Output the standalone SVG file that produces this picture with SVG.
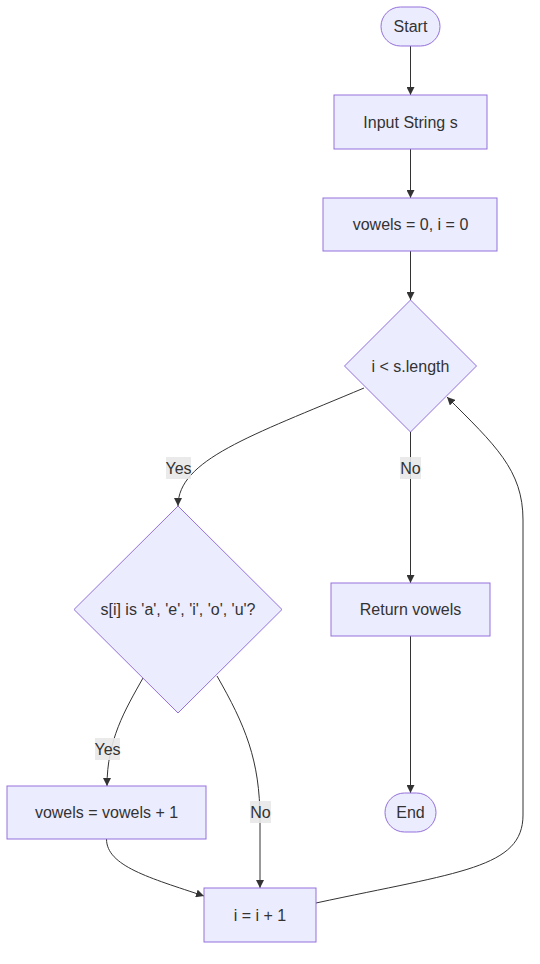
<svg xmlns="http://www.w3.org/2000/svg" width="540" height="964" viewBox="0 0 540 964">
<style>
.node rect,.node polygon{fill:#ECECFF;stroke:#9370DB;stroke-width:1}
.node text,.lbl text{font-family:"Liberation Sans",Arial,sans-serif;font-size:16px;fill:#333;text-anchor:middle;dominant-baseline:central}
.edge{fill:none;stroke:#333;stroke-width:1}
.lbl rect{fill:#e8e8e8;opacity:0.9}
</style>
<defs>
<marker id="arr" viewBox="0 0 10 10" refX="10" refY="5" markerWidth="8" markerHeight="8" markerUnits="userSpaceOnUse" orient="auto">
<path d="M0,0 L10,5 L0,10 z" fill="#333"/>
</marker>
</defs>
<rect width="540" height="964" fill="#fff"/>
<g id="edges">
<path class="edge" d="M410.5,46 L410.5,95" marker-end="url(#arr)"/>
<path class="edge" d="M410.5,149 L410.5,198" marker-end="url(#arr)"/>
<path class="edge" d="M410.5,251 L410.5,300" marker-end="url(#arr)"/>
<path class="edge" d="M364,388 C250,436 178,460 178,506" marker-end="url(#arr)"/>
<path class="edge" d="M410.5,432 L410.5,583" marker-end="url(#arr)"/>
<path class="edge" d="M410.5,636 L410.5,793" marker-end="url(#arr)"/>
<path class="edge" d="M143,678 C125,710 107,740 107,786" marker-end="url(#arr)"/>
<path class="edge" d="M217,676 C245,725 260,760 260,820 L260,888" marker-end="url(#arr)"/>
<path class="edge" d="M106.5,839 C106.5,866 150,878 204,896" marker-end="url(#arr)"/>
<path class="edge" d="M316,903 C460,872 523,868 523,815 L523,520 C523,470 495,445 447,397" marker-end="url(#arr)"/>
<g class="lbl"><rect x="166" y="457" width="25" height="22"/><text x="178.5" y="468">Yes</text></g>
<g class="lbl"><rect x="400" y="457" width="21" height="22"/><text x="410.5" y="468">No</text></g>
<g class="lbl"><rect x="95" y="738" width="25" height="22"/><text x="107.5" y="749">Yes</text></g>
<g class="lbl"><rect x="250" y="801" width="21" height="22"/><text x="260.5" y="812">No</text></g>
</g>
<g id="start" class="node"><rect x="381" y="7" width="59" height="39" rx="19.5" ry="19.5"/><text x="410.5" y="26.5">Start</text></g>
<g id="input" class="node"><rect x="334" y="95" width="153" height="54"/><text x="410.5" y="122">Input String s</text></g>
<g id="init" class="node"><rect x="323" y="198" width="174" height="53"/><text x="410.5" y="224.5">vowels = 0, i = 0</text></g>
<g id="cond" class="node"><polygon points="410.5,300 476.5,366 410.5,432 344.5,366"/><text x="410.5" y="366">i &lt; s.length</text></g>
<g id="check" class="node"><polygon points="178,506 282,609.5 178,713 74,609.5"/><text x="178" y="609.5">s[i] is 'a', 'e', 'i', 'o', 'u'?</text></g>
<g id="ret" class="node"><rect x="331" y="583" width="159" height="53"/><text x="410.5" y="609.5">Return vowels</text></g>
<g id="end" class="node"><rect x="385" y="793" width="51" height="39" rx="19.5" ry="19.5"/><text x="410.5" y="812.5">End</text></g>
<g id="inc" class="node"><rect x="7" y="786" width="199" height="53"/><text x="106.5" y="812.5">vowels = vowels + 1</text></g>
<g id="next" class="node"><rect x="204" y="888" width="112" height="54"/><text x="260" y="915">i = i + 1</text></g>
</svg>
